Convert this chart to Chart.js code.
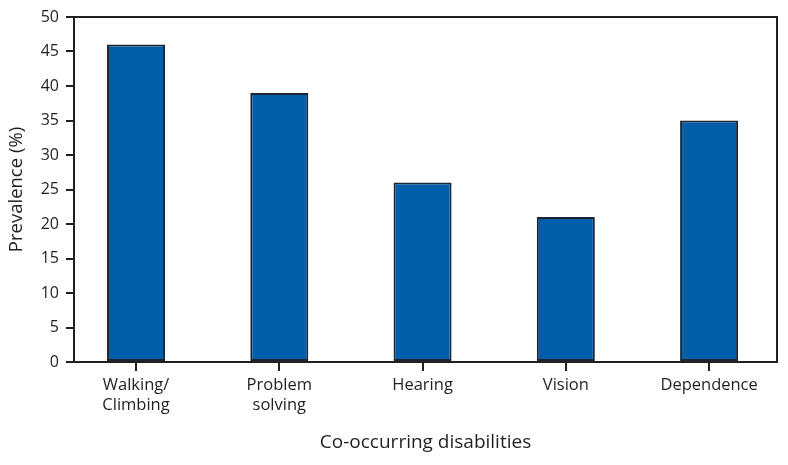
<!DOCTYPE html>
<html>
<head>
<meta charset="utf-8">
<script src="https://cdn.jsdelivr.net/npm/chart.js@4.4.1/dist/chart.umd.min.js"></script>
<style>
  html, body { margin: 0; padding: 0; background: #ffffff; }
  #wrap { width: 788px; height: 465px; position: relative; }
</style>
</head>
<body>
<div id="wrap"><canvas id="c" width="788" height="465"></canvas></div>
<script>
const categories = [["Walking/", "Climbing"], ["Problem", "solving"], "Hearing", "Vision", "Dependence"];
const prevalence = [46, 39, 26, 21, 35];
const yTicks = [0, 5, 10, 15, 20, 25, 30, 35, 40, 45, 50];
const xTitle = "Co-occurring disabilities";
const yTitle = "Prevalence (%)";

const INK = "#231f20";
const FONT = "'Open Sans', 'Liberation Sans', sans-serif";

const framePlugin = {
  id: "frame",
  afterDraw(chart) {
    const { ctx, chartArea: a } = chart;
    ctx.save();
    ctx.strokeStyle = INK;
    ctx.lineWidth = 2;
    ctx.beginPath();
    ctx.moveTo(a.left, a.top);
    ctx.lineTo(a.right, a.top);
    ctx.lineTo(a.right, a.bottom);
    ctx.stroke();
    ctx.restore();
  }
};

new Chart(document.getElementById("c"), {
  type: "bar",
  data: {
    labels: categories,
    datasets: [{
      data: prevalence,
      backgroundColor: "#005eaa",
      borderColor: "#1c2633",
      borderWidth: 2,
      borderSkipped: false,
      barPercentage: 0.405,
      categoryPercentage: 1.0
    }]
  },
  options: {
    responsive: false,
    animation: false,
    devicePixelRatio: 1,
    layout: { padding: { top: 17, right: 11, bottom: 0, left: 0 } },
    plugins: { legend: { display: false }, tooltip: { enabled: false } },
    scales: {
      x: {
        offset: true,
        afterBuildTicks(s) { s._startValue = -0.433; s._valueRange = 4.907; },
        afterFit(s) { s.height = 103; },
        grid: { display: true, drawOnChartArea: false, offset: false, color: INK, lineWidth: 2, tickLength: 9 },
        border: { display: true, color: INK, width: 2 },
        ticks: { color: INK, font: { family: FONT, size: 16.5, lineHeight: 1.22 }, padding: 4, maxRotation: 0, autoSkip: false },
        title: { display: true, text: xTitle, color: INK, font: { family: FONT, size: 19 }, padding: { top: 0, bottom: 11 } }
      },
      y: {
        min: 0, max: 50,
        afterBuildTicks(s) { s.ticks = yTicks.map(v => ({ value: v })); },
        afterFit(s) { s.width = 74; },
        grid: { display: true, drawOnChartArea: false, color: INK, lineWidth: 2, tickLength: 8 },
        border: { display: true, color: INK, width: 2 },
        ticks: { color: INK, font: { family: FONT, size: 16 }, padding: 7 },
        title: { display: true, text: yTitle, color: INK, font: { family: FONT, size: 18.5 }, padding: { top: 6, bottom: 0 } }
      }
    }
  },
  plugins: [framePlugin]
});
</script>
</body>
</html>
